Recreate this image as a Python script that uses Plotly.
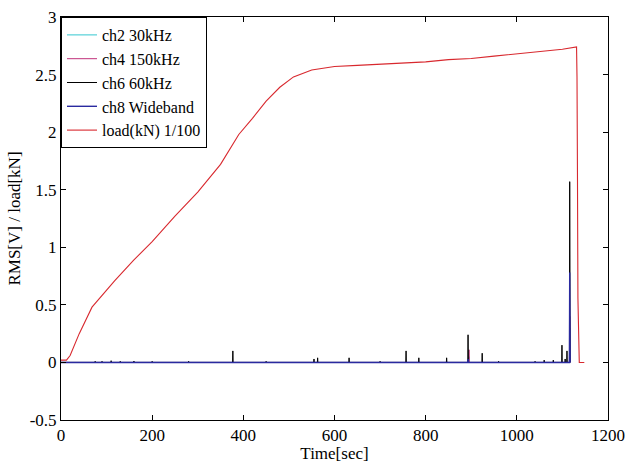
import plotly.graph_objects as go

# ---------------- data ----------------
# load(kN)/100 curve: knots of time [s] and value
load_t = [0, 12, 20, 40, 68, 90, 118, 160, 200, 250, 300, 350, 390, 420, 450, 480, 510, 550, 600,
          650, 700, 750, 800, 850, 900, 950, 1000, 1050, 1100, 1131, 1132, 1133, 1134, 1137, 1148]
load_v = [0.02, 0.02, 0.06, 0.25, 0.48, 0.58, 0.71, 0.89, 1.05, 1.27, 1.48, 1.72, 1.98, 2.12, 2.27,
          2.39, 2.48, 2.54, 2.57, 2.58, 2.59, 2.60, 2.61, 2.63, 2.64, 2.66, 2.68, 2.70, 2.72, 2.74,
          2.48, 1.65, 0.56, 0.0, 0.0]

t_end = 1117  # end of the AE channels record

# spikes per channel: event times [s] and RMS heights [V]
ch2_t = [895, 1116]
ch2_h = [0.05, 0.30]

ch4_t = [895, 1116]
ch4_h = [0.11, 0.40]

ch6_t = [75, 90, 110, 130, 160, 200, 280, 377, 450, 555, 563, 632, 700, 757, 785, 846, 893, 924,
         960, 1040, 1060, 1080, 1099, 1106, 1110, 1116]
ch6_h = [0.01, 0.01, 0.015, 0.01, 0.012, 0.01, 0.01, 0.10, 0.01, 0.03, 0.04, 0.04, 0.01, 0.10, 0.04,
         0.04, 0.24, 0.08, 0.01, 0.01, 0.02, 0.02, 0.15, 0.03, 0.10, 1.57]

ch8_t = [893, 1116]
ch8_h = [0.03, 0.78]

x_ticks = [0, 200, 400, 600, 800, 1000, 1200]
y_ticks = [-0.5, 0, 0.5, 1, 1.5, 2, 2.5, 3]


def spike_series(times, heights, end):
    xs, ys = [0.0], [0.0]
    for t, h in zip(times, heights):
        xs += [t - 0.6, t, t + 0.6]
        ys += [0.0, h, 0.0]
    xs.append(end)
    ys.append(0.0)
    return xs, ys


FONT = "Liberation Serif"

fig = go.Figure()
series = [
    ("ch2 30kHz", ch2_t, ch2_h, "#33c8d0", 1),
    ("ch4 150kHz", ch4_t, ch4_h, "#c0307a", 1),
    ("ch6 60kHz", ch6_t, ch6_h, "#000000", 1),
    ("ch8 Wideband", ch8_t, ch8_h, "#2a2aa0", 1.4),
]
for name, tt, hh, col, w in series:
    xs, ys = spike_series(tt, hh, t_end)
    fig.add_trace(go.Scatter(x=xs, y=ys, mode="lines", name=name,
                             line=dict(color=col, width=w)))

fig.add_trace(go.Scatter(x=load_t, y=load_v, mode="lines", name="load(kN) 1/100",
                         line=dict(color="#d8282e", width=1.1)))

axis_common = dict(showline=True, linecolor="black", linewidth=1, mirror="ticks",
                   ticks="inside", ticklen=5, tickcolor="black", showgrid=False,
                   zeroline=False, tickfont=dict(family=FONT, size=17, color="black"))

fig.update_xaxes(range=[0, 1200], tickvals=x_ticks, ticktext=[str(v) for v in x_ticks],
                 title=dict(text="Time[sec]", font=dict(family=FONT, size=17, color="black"),
                            standoff=0),
                 automargin=False, **axis_common)
fig.update_yaxes(range=[-0.5, 3], tickvals=y_ticks,
                 ticktext=["-0.5", "0", "0.5", "1", "1.5", "2", "2.5", "3"],
                 title=dict(text="RMS[V] / load[kN]", font=dict(family=FONT, size=17, color="black"),
                            standoff=4),
                 automargin=False, **axis_common)

fig.update_layout(
    width=625, height=463,
    margin=dict(l=61, r=17, t=17, b=43),
    plot_bgcolor="white", paper_bgcolor="white",
    showlegend=True,
    legend=dict(x=0, y=1, xanchor="left", yanchor="top",
                bgcolor="white", bordercolor="black", borderwidth=1,
                font=dict(family=FONT, size=16, color="black"),
                tracegroupgap=0, itemwidth=30),
)

fig.write_html("out.html")
